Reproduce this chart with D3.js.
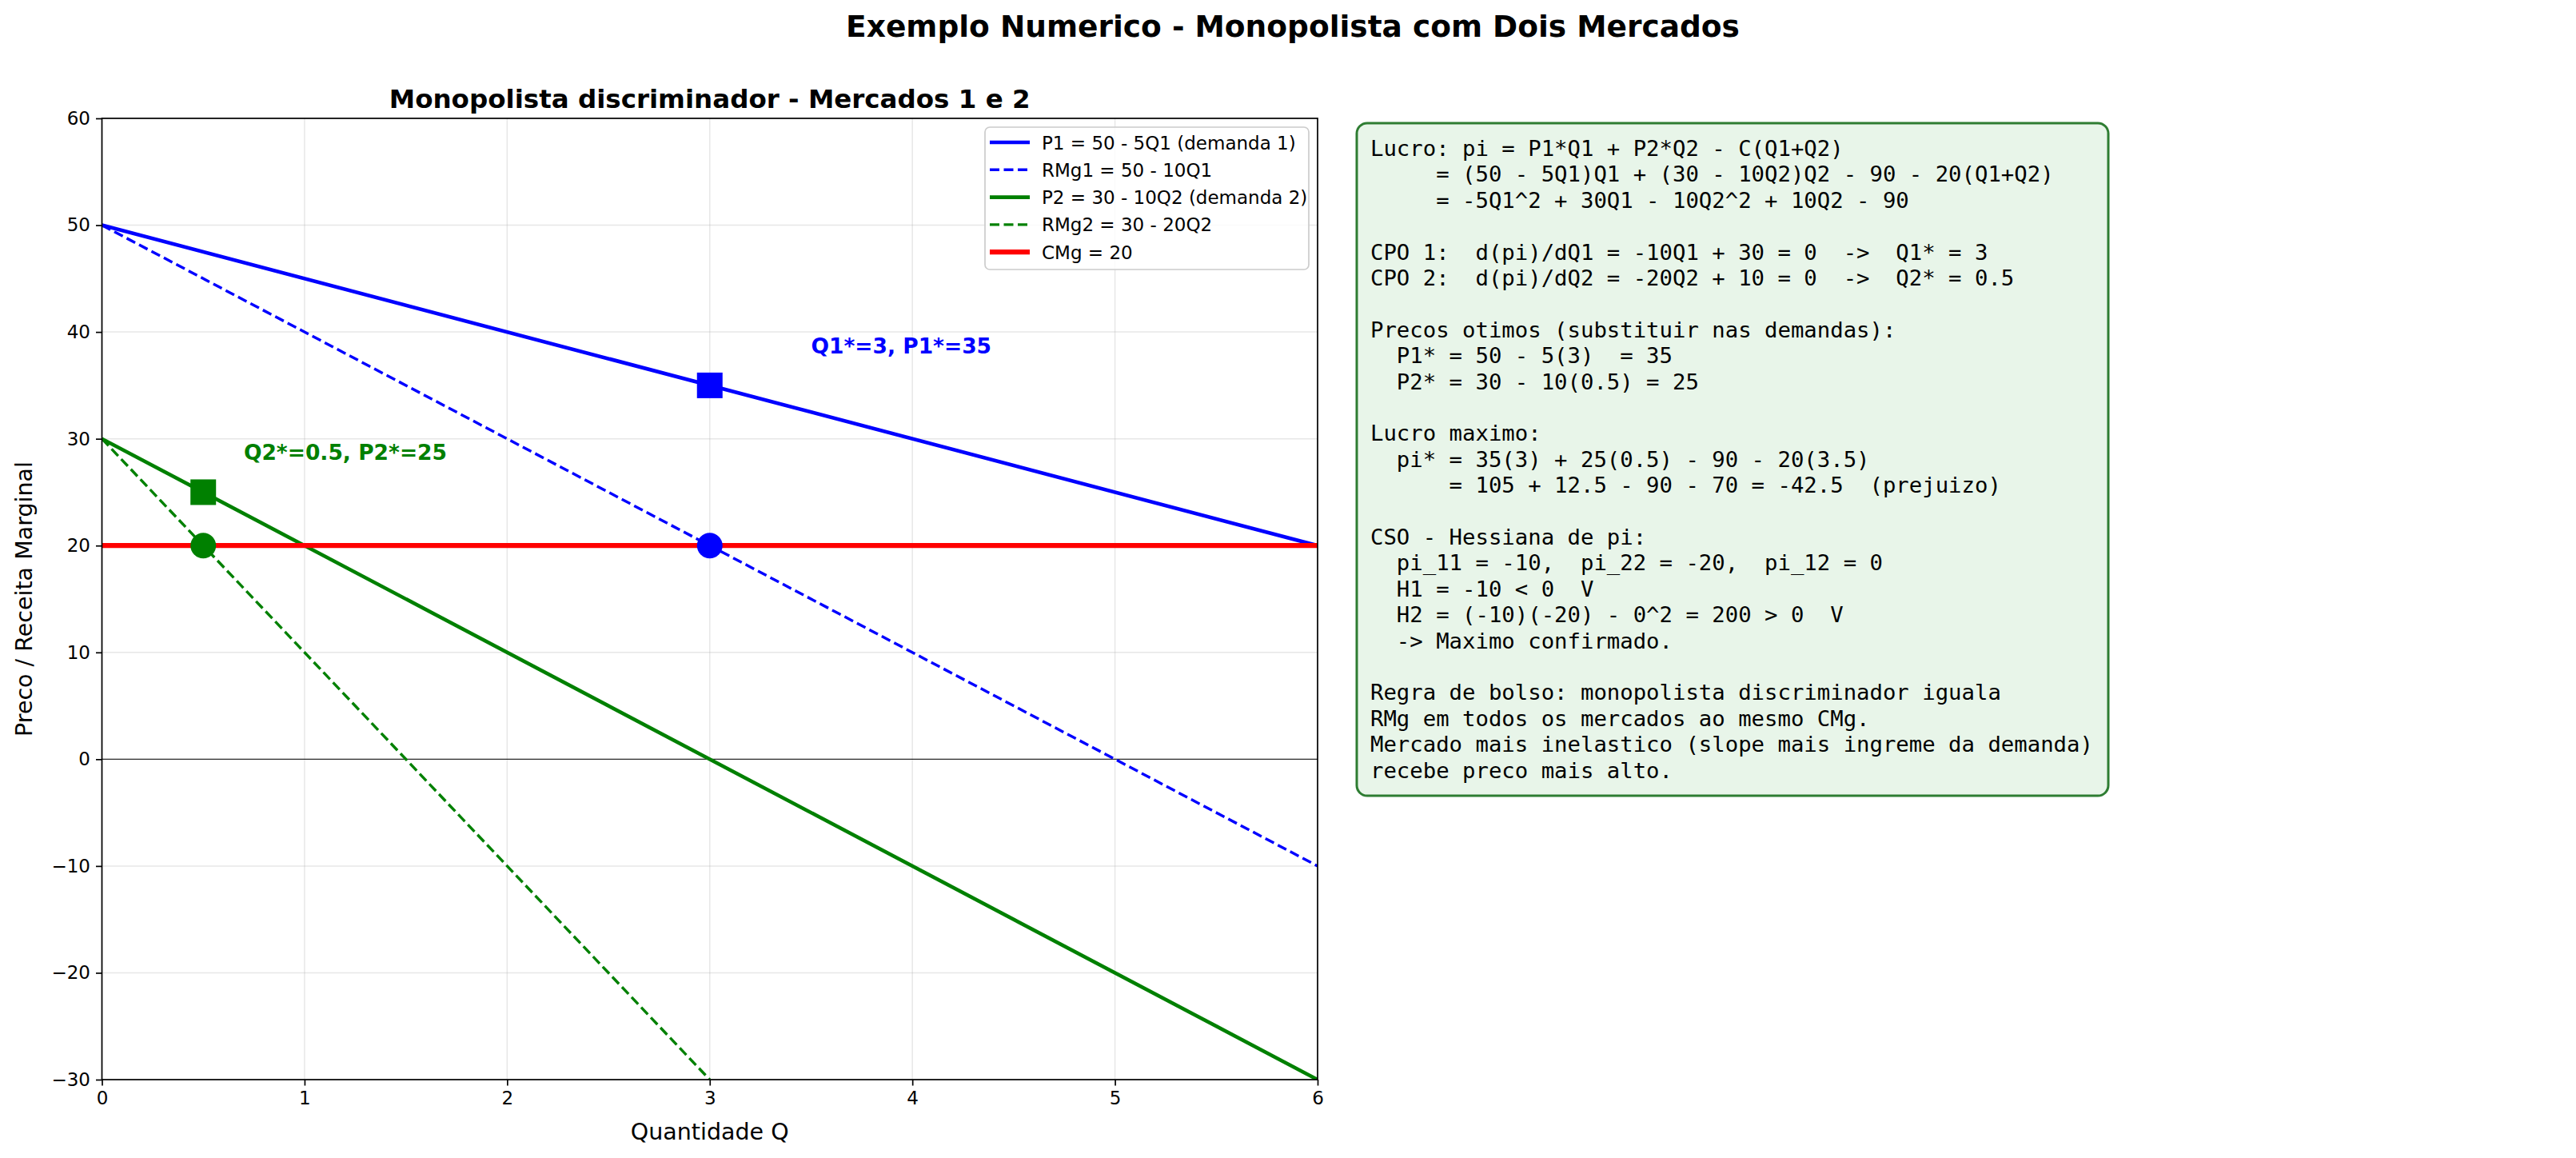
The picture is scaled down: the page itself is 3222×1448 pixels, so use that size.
<!DOCTYPE html>
<html>
<head>
<meta charset="utf-8">
<script src="https://cdn.jsdelivr.net/npm/d3@7"></script>
<style>
  body { margin: 0; background: #fff; }
  svg { display: block; }
  .mono { white-space: pre; }
</style>
</head>
<body>
<svg id="chart" width="3222" height="1448"></svg>
<script>
// chart data
const qDomain = [0, 6]
const pDomain = [-30, 60]
const xTickValues = [0, 1, 2, 3, 4, 5, 6]
const yTickValues = [-30, -20, -10, 0, 10, 20, 30, 40, 50, 60]

const lineQ = [0, 6]
const p1Values = [50, 20]      // P1 = 50 - 5Q1
const rmg1Values = [50, -10]   // RMg1 = 50 - 10Q1
const p2Values = [30, -30]     // P2 = 30 - 10Q2
const rmg2Q = [0, 3]
const rmg2Values = [30, -30]   // RMg2 = 30 - 20Q2
const cmgValues = [20, 20]

const optQ = [3, 0.5]
const optPrice = [35, 25]
const optCost = [20, 20]
const optColors = ['blue', 'green']

const annotationText = ['Q1*=3, P1*=35', 'Q2*=0.5, P2*=25']
const annotationQ = [3.5, 0.7]
const annotationP = [38, 28]

const legendLabels = [
  'P1 = 50 - 5Q1 (demanda 1)',
  'RMg1 = 50 - 10Q1',
  'P2 = 30 - 10Q2 (demanda 2)',
  'RMg2 = 30 - 20Q2',
  'CMg = 20'
]

const boxLines = [
  'Lucro: pi = P1*Q1 + P2*Q2 - C(Q1+Q2)',
  '     = (50 - 5Q1)Q1 + (30 - 10Q2)Q2 - 90 - 20(Q1+Q2)',
  '     = -5Q1^2 + 30Q1 - 10Q2^2 + 10Q2 - 90',
  '',
  'CPO 1:  d(pi)/dQ1 = -10Q1 + 30 = 0  ->  Q1* = 3',
  'CPO 2:  d(pi)/dQ2 = -20Q2 + 10 = 0  ->  Q2* = 0.5',
  '',
  'Precos otimos (substituir nas demandas):',
  '  P1* = 50 - 5(3)  = 35',
  '  P2* = 30 - 10(0.5) = 25',
  '',
  'Lucro maximo:',
  '  pi* = 35(3) + 25(0.5) - 90 - 20(3.5)',
  '      = 105 + 12.5 - 90 - 70 = -42.5  (prejuizo)',
  '',
  'CSO - Hessiana de pi:',
  '  pi_11 = -10,  pi_22 = -20,  pi_12 = 0',
  '  H1 = -10 < 0  V',
  '  H2 = (-10)(-20) - 0^2 = 200 > 0  V',
  '  -> Maximo confirmado.',
  '',
  'Regra de bolso: monopolista discriminador iguala',
  'RMg em todos os mercados ao mesmo CMg.',
  'Mercado mais inelastico (slope mais ingreme da demanda)',
  'recebe preco mais alto.'
]

const series = [
  { q: lineQ, p: p1Values, color: 'blue', width: 4.6, dash: null },
  { q: lineQ, p: rmg1Values, color: 'blue', width: 3.4, dash: '12,5.5' },
  { q: lineQ, p: p2Values, color: 'green', width: 4.6, dash: null },
  { q: rmg2Q, p: rmg2Values, color: 'green', width: 3.4, dash: '12,5.5' },
  { q: lineQ, p: cmgValues, color: 'red', width: 6.2, dash: null }
]

const font = 'DejaVu Sans, sans-serif'
const dims = { left: 127.5, top: 148, right: 1648, bottom: 1350 }

const svg = d3.select('#chart')
svg.append('rect').attr('width', 3222).attr('height', 1448).attr('fill', '#fff')

const x = d3.scaleLinear().domain(qDomain).range([dims.left, dims.right])
const y = d3.scaleLinear().domain(pDomain).range([dims.bottom, dims.top])

// titles
svg.append('text')
  .attr('x', 1617)
  .attr('y', 46)
  .attr('text-anchor', 'middle')
  .attr('font-family', font)
  .attr('font-size', 37.5)
  .attr('font-weight', 'bold')
  .text('Exemplo Numerico - Monopolista com Dois Mercados')

svg.append('text')
  .attr('x', (dims.left + dims.right) / 2)
  .attr('y', 135)
  .attr('text-anchor', 'middle')
  .attr('font-family', font)
  .attr('font-size', 32.5)
  .attr('font-weight', 'bold')
  .text('Monopolista discriminador - Mercados 1 e 2')

// clip so lines stay in the axes
svg.append('defs')
  .append('clipPath')
  .attr('id', 'plot-clip')
  .append('rect')
  .attr('x', dims.left)
  .attr('y', dims.top)
  .attr('width', dims.right - dims.left)
  .attr('height', dims.bottom - dims.top)

// grid
const grid = svg.append('g')
grid.selectAll('.vgrid')
  .data(xTickValues)
  .enter()
  .append('line')
  .attr('x1', d => x(d)).attr('x2', d => x(d))
  .attr('y1', dims.top).attr('y2', dims.bottom)
  .attr('stroke', '#b0b0b0').attr('stroke-opacity', 0.3).attr('stroke-width', 1.5)
grid.selectAll('.hgrid')
  .data(yTickValues)
  .enter()
  .append('line')
  .attr('x1', dims.left).attr('x2', dims.right)
  .attr('y1', d => y(d)).attr('y2', d => y(d))
  .attr('stroke', '#b0b0b0').attr('stroke-opacity', 0.3).attr('stroke-width', 1.5)

const plot = svg.append('g').attr('clip-path', 'url(#plot-clip)')

// zero line
plot.append('line')
  .attr('x1', dims.left).attr('x2', dims.right)
  .attr('y1', y(0)).attr('y2', y(0))
  .attr('stroke', '#000').attr('stroke-opacity', 0.8).attr('stroke-width', 1.2)

const lineGen = d3.line().x(d => x(d[0])).y(d => y(d[1]))

series.forEach(s => {
  plot.append('path')
    .datum(d3.zip(s.q, s.p))
    .attr('d', lineGen)
    .attr('fill', 'none')
    .attr('stroke', s.color)
    .attr('stroke-width', s.width)
    .attr('stroke-dasharray', s.dash)
})

// optimum markers: squares at the price, circles at RMg = CMg
const markerSize = 32
optQ.forEach((q, i) => {
  plot.append('rect')
    .attr('x', x(q) - markerSize / 2)
    .attr('y', y(optPrice[i]) - markerSize / 2)
    .attr('width', markerSize)
    .attr('height', markerSize)
    .attr('fill', optColors[i])
  plot.append('circle')
    .attr('cx', x(q))
    .attr('cy', y(optCost[i]))
    .attr('r', markerSize / 2)
    .attr('fill', optColors[i])
})

annotationText.forEach((t, i) => {
  svg.append('text')
    .attr('x', x(annotationQ[i]))
    .attr('y', y(annotationP[i]))
    .attr('font-family', font)
    .attr('font-size', 26.5)
    .attr('font-weight', 'bold')
    .attr('fill', optColors[i])
    .text(t)
})

// axes
const xAxis = svg.append('g')
  .attr('transform', `translate(0,${dims.bottom})`)
  .call(d3.axisBottom(x).tickValues(xTickValues).tickSize(7.5).tickPadding(7).tickFormat(d3.format('d')))
const yAxis = svg.append('g')
  .attr('transform', `translate(${dims.left},0)`)
  .call(d3.axisLeft(y).tickValues(yTickValues).tickSize(7.5).tickPadding(7).tickFormat(d3.format('d')))

;[xAxis, yAxis].forEach(ax => {
  ax.select('.domain').remove()
  ax.selectAll('.tick line').attr('stroke', '#000').attr('stroke-width', 1.7)
  ax.selectAll('.tick text')
    .attr('font-family', font)
    .attr('font-size', 23)
    .attr('fill', '#000')
})

// spines
svg.append('rect')
  .attr('x', dims.left)
  .attr('y', dims.top)
  .attr('width', dims.right - dims.left)
  .attr('height', dims.bottom - dims.top)
  .attr('fill', 'none')
  .attr('stroke', '#000')
  .attr('stroke-width', 1.7)

svg.append('text')
  .attr('x', (dims.left + dims.right) / 2)
  .attr('y', 1425)
  .attr('text-anchor', 'middle')
  .attr('font-family', font)
  .attr('font-size', 28.5)
  .text('Quantidade Q')

svg.append('text')
  .attr('transform', `translate(40,${(dims.top + dims.bottom) / 2}) rotate(-90)`)
  .attr('text-anchor', 'middle')
  .attr('font-family', font)
  .attr('font-size', 28.5)
  .text('Preco / Receita Marginal')

// legend
const legend = svg.append('g').attr('transform', 'translate(1232,159)')
legend.append('rect')
  .attr('width', 405)
  .attr('height', 178)
  .attr('rx', 6)
  .attr('fill', '#fff')
  .attr('fill-opacity', 0.8)
  .attr('stroke', '#cccccc')
  .attr('stroke-width', 1.7)

series.forEach((s, i) => {
  const rowY = 19 + i * 34.3
  legend.append('line')
    .attr('x1', 6).attr('x2', 56)
    .attr('y1', rowY).attr('y2', rowY)
    .attr('stroke', s.color)
    .attr('stroke-width', s.width)
    .attr('stroke-dasharray', s.dash)
  legend.append('text')
    .attr('x', 71)
    .attr('y', rowY + 8.5)
    .attr('font-family', font)
    .attr('font-size', 23)
    .text(legendLabels[i])
})

// derivation box
svg.append('rect')
  .attr('x', 1697)
  .attr('y', 154)
  .attr('width', 940)
  .attr('height', 841)
  .attr('rx', 13)
  .attr('fill', '#e8f5e9')
  .attr('stroke', '#2e7d32')
  .attr('stroke-width', 3)

svg.append('g')
  .selectAll('text')
  .data(boxLines)
  .enter()
  .append('text')
  .attr('class', 'mono')
  .attr('x', 1714)
  .attr('y', (d, i) => 195 + i * 32.4)
  .attr('font-family', 'DejaVu Sans Mono, monospace')
  .attr('font-size', 27.3)
  .text(d => d)
</script>
</body>
</html>
